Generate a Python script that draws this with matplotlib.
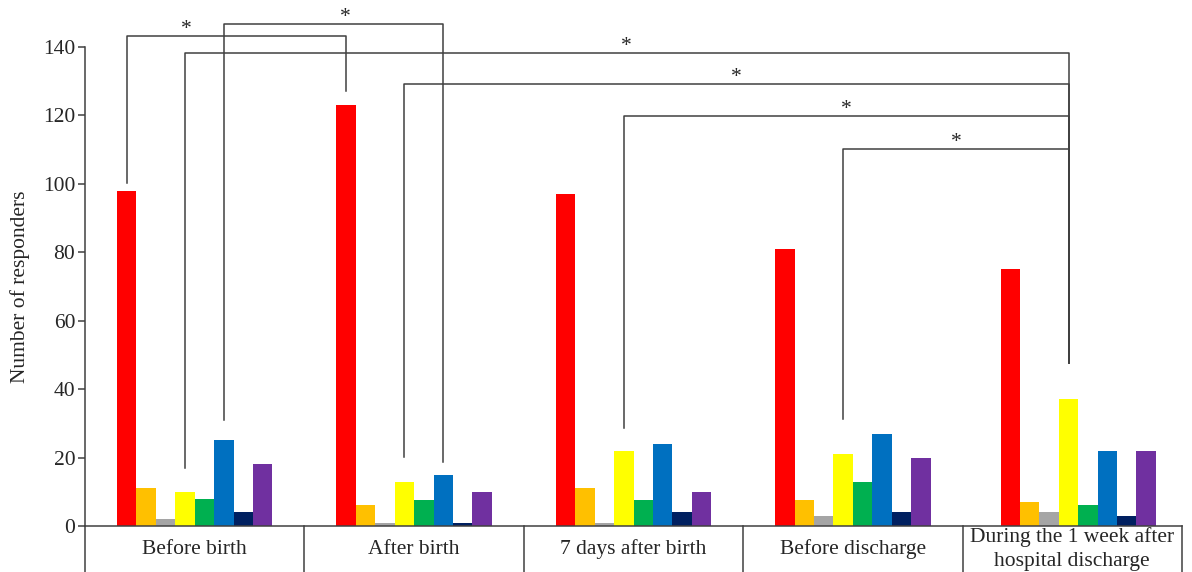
import matplotlib
matplotlib.use("Agg")
import matplotlib.pyplot as plt
import numpy as np

plt.rcParams['font.family'] = ['Liberation Serif', 'DejaVu Serif']

categories = ["Before birth", "After birth", "7 days after birth", "Before discharge",
              "During the 1 week after\nhospital discharge"]
series_names = ["red", "orange", "gray", "yellow", "green", "blue", "navy", "purple"]
series_colors = ["#FF0000", "#FFC000", "#A5A5A5", "#FFFF00", "#00B050", "#0070C0", "#002060", "#7030A0"]
red_vals = [98, 123, 97, 81, 75]
orange_vals = [11, 6, 11, 7.5, 7]
gray_vals = [2, 1, 1, 3, 4]
yellow_vals = [10, 13, 22, 21, 37]
green_vals = [8, 7.5, 7.5, 13, 6]
blue_vals = [25, 15, 24, 27, 22]
navy_vals = [4, 1, 4, 4, 3]
purple_vals = [18, 10, 10, 20, 22]
series_values = [red_vals, orange_vals, gray_vals, yellow_vals, green_vals,
                 blue_vals, navy_vals, purple_vals]

y_ticks = [0, 20, 40, 60, 80, 100, 120, 140]

# significance brackets: (group_a, series_a, leg_a_bottom, group_b, series_b, leg_b_bottom, height, star_frac)
brackets = [
    (0, 0, 100.3, 1, 0, 127.0, 143.2, 0.27),
    (0, 5, 31.0, 1, 5, 18.7, 146.7, 0.555),
    (0, 3, 17.0, 4, 3, 47.6, 138.3, 0.5),
    (1, 3, 20.2, 4, 3, 47.6, 129.2, 0.5),
    (2, 3, 28.7, 4, 3, 47.6, 119.8, 0.5),
    (3, 3, 31.3, 4, 3, 47.6, 110.2, 0.5),
]

line_col = "#404040"
text_col = "#262626"
fs = 15.5

fig = plt.figure(figsize=(11.92, 5.72), dpi=100)
ax = fig.add_axes([85 / 1192, 46 / 572, 1097 / 1192, 479 / 572])

n_groups = len(categories)
n_series = len(series_values)
bw = 0.0885
group_shift = [0, 0, 0, 0, 0.027]   # bar cluster offset inside each table cell
x = np.arange(n_groups) + np.array(group_shift)

def bar_x(g, s):
    return x[g] + (s - (n_series - 1) / 2) * bw

for s, (vals, col) in enumerate(zip(series_values, series_colors)):
    ax.bar(x + (s - (n_series - 1) / 2) * bw, vals, width=bw, color=col,
           edgecolor='none', label=series_names[s], zorder=2)

ax.set_xlim(-0.5, n_groups - 0.5)
ax.set_ylim(0, 140)
ax.set_yticks(y_ticks)
ax.tick_params(axis='y', direction='out', length=5, width=1.1, color=line_col,
               labelsize=fs, labelcolor=text_col, pad=2)
ax.set_xticks([])
for sp in ['top', 'right']:
    ax.spines[sp].set_visible(False)
for sp in ['left', 'bottom']:
    ax.spines[sp].set_color(line_col)
    ax.spines[sp].set_linewidth(1.1)
ax.set_ylabel("Number of responders", fontsize=fs, color=text_col, labelpad=9)

# category table below axis
xt = ax.get_xaxis_transform()
for b in np.arange(n_groups + 1) - 0.5:
    ax.plot([b, b], [0, -0.2], transform=xt, color=line_col, lw=1.1, clip_on=False)
for g, lab in enumerate(categories):
    ax.text(g, -23 / 479, lab, transform=xt, ha='center', va='center',
            fontsize=fs, color=text_col, linespacing=1.35)

# brackets
for ga, sa, la, gb, sb, lb, h, frac in brackets:
    xa = bar_x(ga, sa)
    xb = bar_x(gb, sb)
    ax.plot([xa, xa, xb, xb], [la, h, h, lb], color=line_col, lw=1.1,
            clip_on=False, zorder=3)
    ax.text(xa + frac * (xb - xa), h + 0.6, "*", ha='center', va='baseline',
            fontsize=fs, color=text_col, clip_on=False)

fig.savefig("out.png", dpi=100)
